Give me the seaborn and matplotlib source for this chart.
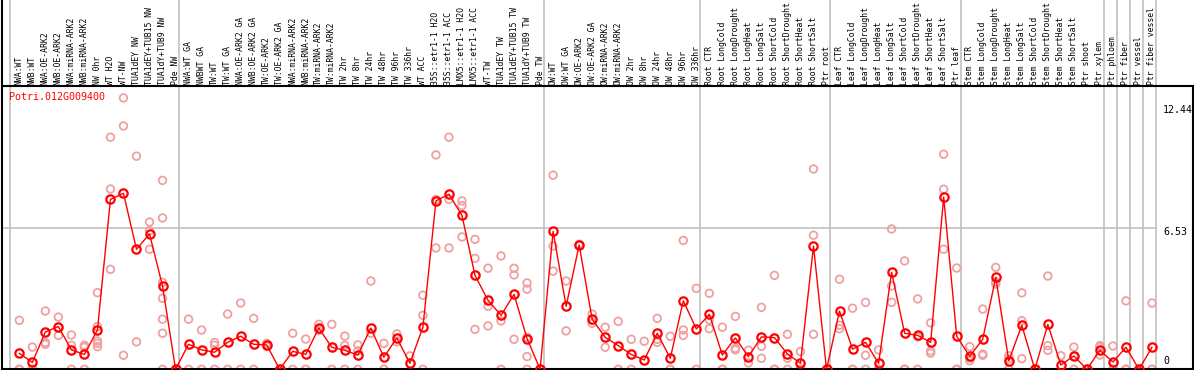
import numpy as np
import pandas as pd
import seaborn as sns
import matplotlib.pyplot as plt

# %%
gene = "Potri.012G009400"

samples = [
    "NWA:WT", "NWB:WT", "NWA:OE-ARK2", "NWB:OE-ARK2", "NWA:miRNA-ARK2", "NWB:miRNA-ARK2",
    "NW 0hr", "WT H2O", "WT-NW", "TUA1dEY NW", "TUA1dEY+TUB15 NW", "TUA1dY+TUB9 NW", "Pde NW",
    "NWA:WT GA", "NWBWT GA", "TW:WT", "TW:WT GA", "NWA:OE-ARK2 GA", "NWB:OE-ARK2 GA",
    "TW:OE-ARK2", "TW:OE-ARK2 GA", "NWA:miRNA-ARK2", "NWB:miRNA-ARK2", "TW:miRNA-ARK2",
    "TW:miRNA-ARK2", "TW 2hr", "TW 8hr", "TW 24hr", "TW 48hr", "TW 96hr", "TW 336hr",
    "WT ACC", "35S::etr1-1 H2O", "35S::etr1-1 ACC", "LMX5::etr1-1 H2O", "LMX5::etr1-1 ACC",
    "WT-TW", "TUA1dEY TW", "TUA1dEY+TUB15 TW", "TUA1dY+TUB9 TW", "Pde TW",
    "OW:WT", "OW:WT GA", "OW:OE-ARK2", "OW:OE-ARK2 GA", "OW:miRNA-ARK2", "OW:miRNA-ARK2",
    "OW 2hr", "OW 8hr", "OW 24hr", "OW 48hr", "OW 96hr", "OW 336hr",
    "Root CTR", "Root LongCold", "Root LongDrought", "Root LongHeat", "Root LongSalt",
    "Root ShortCold", "Root ShortDrought", "Root ShortHeat", "Root ShortSalt", "Ptr root",
    "Leaf CTR", "Leaf LongCold", "Leaf LongDrought", "Leaf LongHeat", "Leaf LongSalt",
    "Leaf ShortCold", "Leaf ShortDrought", "Leaf ShortHeat", "Leaf ShortSalt", "Ptr leaf",
    "Stem CTR", "Stem LongCold", "Stem LongDrought", "Stem LongHeat", "Stem LongSalt",
    "Stem ShortCold", "Stem ShortDrought", "Stem ShortHeat", "Stem ShortSalt",
    "Ptr shoot", "Ptr xylem", "Ptr phloem", "Ptr fiber", "Ptr vessel", "Ptr fiber vessel",
]

means = [
    0.74, 0.32, 1.73, 1.98, 0.90, 0.69, 1.82, 7.87, 8.15, 5.56, 6.27, 3.86, 0.0,
    1.16, 0.90, 0.79, 1.25, 1.53, 1.16, 1.13, 0.0, 0.83, 0.69, 1.91, 1.02, 0.88, 0.66,
    1.91, 0.56, 1.45, 0.28, 1.95, 7.80, 8.11, 7.13, 4.35, 3.20, 2.50, 3.47, 1.42, 0.0,
    6.39, 2.92, 5.76, 2.32, 1.48, 1.10, 0.69, 0.43, 1.67, 0.51, 3.17, 1.87,
    2.55, 0.66, 1.45, 0.59, 1.50, 1.47, 0.71, 0.28, 5.71, 0.0,
    2.70, 0.93, 1.25, 0.28, 4.49, 1.67, 1.57, 1.25, 7.98, 1.53,
    0.60, 1.40, 4.26, 0.39, 2.04, 0.0, 2.08, 0.20, 0.62, 0.0, 0.88,
    0.34, 1.02, 0.0, 1.02,
]

replicates = [
    [2.27, 0, 0], [1.03, 0, 0], [2.70, 1.24, 1.16], [2.42, 1.57, 1.95], [1.59, 1.11, 0],
    [1.11, 1.02, 0], [3.55, 1.98, 1.31, 1.20, 1.05], [10.75, 8.35, 4.63], [12.57, 11.27, 0.65],
    [9.87, 1.27], [6.82, 6.42, 5.56], [8.75, 7.01, 4.03, 3.29, 2.32, 1.67, 0], [0, 0, 0],
    [2.32, 0], [1.82, 0], [1.24, 1.11, 0], [2.56, 0], [3.07, 0], [2.36, 0], [1.20, 1.06],
    [0, 0], [1.67, 0], [1.40, 0], [2.08, 1.85, 1.80], [2.08, 0], [1.54, 1.11, 0],
    [1.13, 0.86, 0], [4.09, 1.67], [1.20, 0], [1.64, 1.27], [0.62], [3.43, 2.50, 0],
    [9.93, 7.87, 5.62], [10.75, 7.87, 5.62], [7.80, 7.58, 6.13], [6.02, 5.14, 1.85],
    [4.68, 2.92, 2.01], [5.25, 2.24, 0], [4.68, 4.37, 1.39], [4.00, 3.71, 1.48, 0.59, 0],
    [0, 0, 0],
    [8.99, 5.71, 4.55], [4.09, 1.78], [5.79, 5.73], [2.56, 2.13, 2.27], [1.95, 1.02],
    [2.22, 0], [1.39, 0], [1.30], [2.36, 1.39, 1.25], [1.53, 0, 0], [5.97, 1.82, 1.57],
    [3.75, 0],
    [3.52, 2.29, 1.88], [1.95, 0, 0], [2.45, 0.97, 0.90], [0.88, 0.30], [2.87, 1.07, 0.51],
    [4.35, 0, 0], [1.62, 0.51, 0], [0.82, 0, 0], [9.28, 6.21, 1.62], [0, 0, 0],
    [4.17, 2.04, 1.88], [2.83, 0, 0], [3.10, 0.65, 0], [0.90, 0, 0], [6.50, 3.86, 3.10],
    [5.02, 0, 0], [3.26, 1.50, 0], [2.15, 0.85, 0.75], [9.96, 8.34, 5.56], [4.69, 0, 0],
    [1.05, 0.52, 0.40], [2.79, 0.71, 0.65], [4.72, 4.05, 3.95], [0.63, 0.48, 0],
    [3.54, 2.25, 0.49], [0, 0, 0], [4.32, 1.10, 0.88], [0.63], [1.03, 0.60, 0], [0, 0, 0],
    [1.10, 1.02, 0.66], [1.08, 0, 0], [3.17, 0, 0], [0, 0, 0], [3.07, 0, 0],
]

# last sample index of each tissue block (for the grey separators)
group_ends = [-1, 12, 40, 52, 62, 72, 83, 84, 85, 86, 87]
ytick_vals = [0, 6.53, 12.44]
ytick_text = ["0", "6.53", "12.44"]

# %%
pos = np.arange(len(samples))
df_mean = pd.DataFrame({"pos": pos, "value": means})
df_rep = pd.DataFrame(
    [(i, v) for i, vals in enumerate(replicates) for v in vals], columns=["pos", "value"]
)

px_per_unit = 21.59
header_y = 283.3 / px_per_unit      # black line under the sample names
ytop = 369.3 / px_per_unit

fig = plt.figure(figsize=(11.94, 3.70), dpi=100)
ax = fig.add_axes([2 / 1194, 0.7 / 370, 1191 / 1194, 369.3 / 370])
mono = "DejaVu Sans Mono"

for g in group_ends:
    ax.axvline(g + 0.3, color="#c0c0c0", lw=1.2, zorder=0)
ax.axhline(6.53, xmax=(87.3 + 1.33) / 91.48, color="#c0c0c0", lw=1.2, zorder=0)
ax.axhline(header_y, color="black", lw=1.5, zorder=1)

sns.scatterplot(data=df_rep, x="pos", y="value", ax=ax, marker="o", s=30,
                facecolors="none", edgecolor="#f0a0a0", linewidth=1.3, zorder=2,
                legend=False)
sns.lineplot(data=df_mean, x="pos", y="value", ax=ax, color="red", lw=1.0,
             marker="o", markersize=6, markerfacecolor="none",
             markeredgecolor="red", markeredgewidth=1.6, zorder=3)

for i, name in enumerate(samples):
    ax.text(i, header_y + 0.04, name, rotation=90, ha="center", va="bottom",
            family=mono, fontsize=5.9, color="black", clip_on=False)

ax.text(-0.8, 12.6, gene, color="red", family=mono, fontsize=7.2, va="center")
for v, t in zip(ytick_vals, ytick_text):
    va = {"0": "bottom", "6.53": "center", "12.44": "top"}[t]
    off = {"0": 0.15, "6.53": -0.15, "12.44": -0.2}[t]
    ax.text(87.84, v + off, t, family=mono, fontsize=7.2, va=va, ha="left")

ax.set_xlim(-1.33, 90.15)
ax.set_ylim(0, ytop)
ax.set_xticks([])
ax.set_yticks([])
ax.set_xlabel("")
ax.set_ylabel("")
ax.spines["top"].set_visible(False)
ax.spines["right"].set_bounds(0, header_y)
for s in ["left", "bottom", "right"]:
    ax.spines[s].set_color("black")
    ax.spines[s].set_linewidth(1.5)

fig.savefig("out.png", dpi=100)
